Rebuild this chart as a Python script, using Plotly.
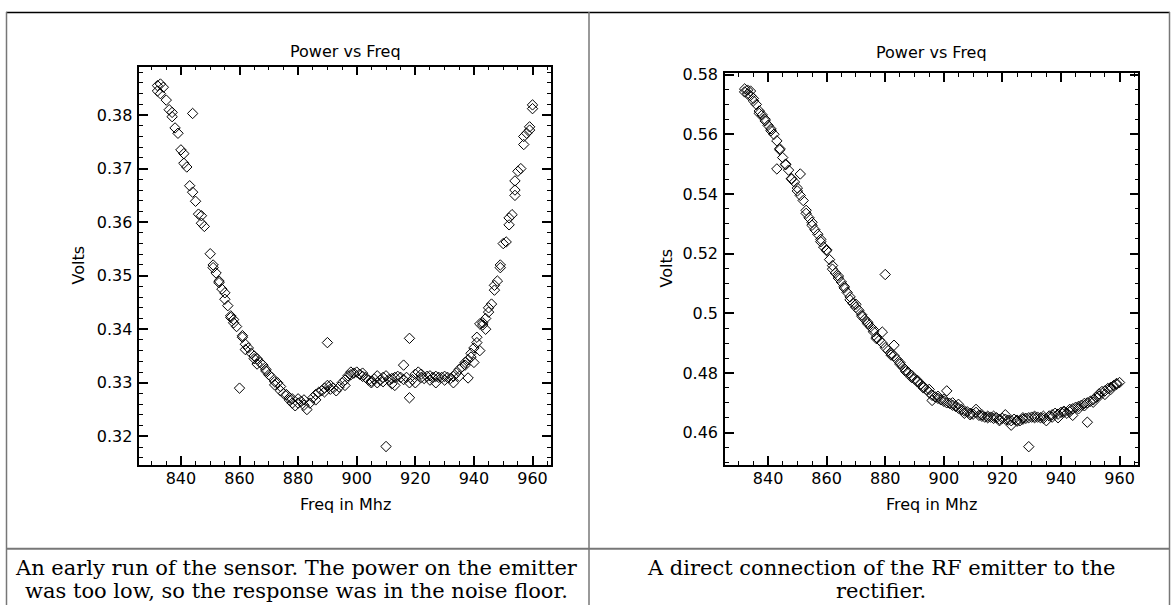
import plotly.graph_objects as go

W, H = 1174, 605

# ---------------- data ----------------
freq_left = [
    832, 832, 833, 833, 834, 835, 836, 837, 837, 838, 839, 840, 841, 841, 842, 843, 844, 844, 845, 846,
    847, 847, 848, 850, 851, 851, 852, 853, 853, 854, 855, 855, 856, 857, 857, 858, 858, 859, 860, 861,
    861, 862, 862, 863, 864, 865, 865, 866, 866, 867, 868, 869, 869, 870, 871, 872, 872, 873, 874, 874,
    875, 876, 877, 877, 878, 878, 879, 880, 880, 881, 882, 882, 883, 884, 885, 886, 886, 887, 888, 889,
    889, 890, 890, 891, 891, 892, 893, 894, 895, 896, 896, 897, 898, 898, 899, 900, 901, 902, 902, 903,
    904, 905, 905, 906, 907, 907, 908, 909, 909, 910, 910, 911, 912, 912, 913, 913, 914, 915, 916, 916,
    917, 918, 918, 918, 919, 920, 920, 921, 922, 922, 923, 924, 925, 925, 926, 927, 927, 928, 929, 930,
    930, 931, 932, 933, 933, 934, 935, 935, 936, 937, 937, 938, 938, 939, 939, 940, 940, 941, 941, 942,
    942, 943, 943, 944, 944, 945, 945, 946, 947, 947, 948, 949, 949, 950, 951, 952, 952, 953, 954, 954,
    954, 955, 956, 957, 957, 958, 959, 959, 960, 960,
]
volts_left = [
    0.3855, 0.3845, 0.3858, 0.3840, 0.3852, 0.3828, 0.3810, 0.3805, 0.3797, 0.3776, 0.3766, 0.3735, 0.3728, 0.3710, 0.3703, 0.3668, 0.3656, 0.3803, 0.3639, 0.3615,
    0.3612, 0.3598, 0.3592, 0.3541, 0.3520, 0.3515, 0.3505, 0.3490, 0.3487, 0.3475, 0.3468, 0.3456, 0.3444, 0.3425, 0.3422, 0.3418, 0.3412, 0.3405, 0.3290, 0.3388,
    0.3385, 0.3372, 0.3362, 0.3365, 0.3355, 0.3350, 0.3345, 0.3345, 0.3335, 0.3338, 0.3333, 0.3325, 0.3322, 0.3315, 0.3310, 0.3302, 0.3296, 0.3300, 0.3293, 0.3285,
    0.3280, 0.3278, 0.3272, 0.3268, 0.3262, 0.3270, 0.3257, 0.3270, 0.3262, 0.3265, 0.3268, 0.3258, 0.3250, 0.3262, 0.3272, 0.3268, 0.3278, 0.3282, 0.3285, 0.3290,
    0.3283, 0.3295, 0.3375, 0.3295, 0.3288, 0.3290, 0.3285, 0.3292, 0.3300, 0.3305, 0.3295, 0.3313, 0.3320, 0.3315, 0.3318, 0.3320, 0.3316, 0.3312, 0.3318, 0.3310,
    0.3305, 0.3303, 0.3300, 0.3307, 0.3313, 0.3300, 0.3305, 0.3310, 0.3302, 0.3313, 0.3181, 0.3306, 0.3308, 0.3298, 0.3295, 0.3310, 0.3312, 0.3310, 0.3306, 0.3333,
    0.3310, 0.3300, 0.3383, 0.3272, 0.3306, 0.3300, 0.3316, 0.3320, 0.3316, 0.3310, 0.3308, 0.3312, 0.3305, 0.3313, 0.3310, 0.3300, 0.3312, 0.3310, 0.3310, 0.3312,
    0.3305, 0.3310, 0.3308, 0.3300, 0.3312, 0.3318, 0.3325, 0.3312, 0.3330, 0.3333, 0.3338, 0.3309, 0.3343, 0.3348, 0.3355, 0.3365, 0.3338, 0.3375, 0.3385, 0.3410,
    0.3360, 0.3412, 0.3408, 0.3420, 0.3400, 0.3432, 0.3440, 0.3447, 0.3473, 0.3482, 0.3490, 0.3520, 0.3515, 0.3560, 0.3563, 0.3608, 0.3595, 0.3614, 0.3650, 0.3660,
    0.3677, 0.3695, 0.3700, 0.3745, 0.3760, 0.3766, 0.3772, 0.3778, 0.3812, 0.3819,
]

freq_right = [
    832, 832, 833, 833, 834, 834, 835, 835, 836, 837, 837, 838, 839, 839, 840, 841, 841, 842, 843, 843,
    844, 844, 845, 846, 846, 847, 848, 848, 849, 850, 850, 851, 851, 852, 853, 853, 854, 855, 855, 856,
    857, 858, 858, 859, 860, 860, 861, 862, 862, 863, 864, 864, 865, 866, 866, 867, 868, 868, 869, 870,
    870, 871, 872, 872, 873, 874, 874, 875, 876, 876, 877, 877, 878, 879, 879, 880, 880, 881, 882, 882,
    883, 883, 884, 885, 885, 886, 887, 887, 888, 889, 889, 890, 891, 891, 892, 893, 893, 894, 895, 895,
    896, 896, 897, 898, 898, 899, 900, 900, 901, 901, 902, 903, 903, 904, 905, 905, 906, 907, 907, 908,
    909, 909, 910, 911, 911, 912, 913, 913, 914, 915, 915, 916, 917, 917, 918, 919, 919, 920, 921, 921,
    922, 923, 923, 924, 925, 925, 926, 927, 927, 928, 929, 929, 930, 931, 931, 932, 933, 934, 934, 935,
    936, 937, 937, 938, 939, 939, 940, 941, 941, 942, 943, 943, 944, 944, 945, 946, 946, 947, 948, 948,
    949, 949, 950, 951, 951, 952, 953, 953, 954, 955, 955, 956, 957, 957, 958, 959, 959, 960,
]
volts_right = [
    0.5752, 0.5742, 0.5748, 0.5735, 0.5730, 0.5745, 0.5720, 0.5712, 0.5700, 0.5678, 0.5670, 0.5665, 0.5650, 0.5645, 0.5630, 0.5618, 0.5612, 0.5600, 0.5578, 0.5484,
    0.5552, 0.5548, 0.5522, 0.5498, 0.5500, 0.5480, 0.5452, 0.5450, 0.5440, 0.5420, 0.5410, 0.5395, 0.5467, 0.5378, 0.5345, 0.5335, 0.5320, 0.5305, 0.5295, 0.5280,
    0.5265, 0.5248, 0.5240, 0.5222, 0.5213, 0.5210, 0.5180, 0.5160, 0.5148, 0.5135, 0.5125, 0.5118, 0.5105, 0.5090, 0.5085, 0.5070, 0.5055, 0.5045, 0.5033, 0.5020,
    0.5030, 0.5010, 0.4995, 0.4990, 0.4980, 0.4970, 0.4965, 0.4955, 0.4945, 0.4938, 0.4920, 0.4915, 0.4910, 0.4900, 0.4937, 0.4885, 0.5130, 0.4875, 0.4865, 0.4860,
    0.4858, 0.4893, 0.4845, 0.4835, 0.4830, 0.4820, 0.4810, 0.4805, 0.4800, 0.4792, 0.4785, 0.4780, 0.4775, 0.4770, 0.4762, 0.4755, 0.4750, 0.4745, 0.4735, 0.4745,
    0.4725, 0.4708, 0.4720, 0.4715, 0.4722, 0.4710, 0.4705, 0.4712, 0.4700, 0.4740, 0.4698, 0.4692, 0.4700, 0.4688, 0.4682, 0.4695, 0.4678, 0.4673, 0.4665, 0.4670,
    0.4665, 0.4660, 0.4662, 0.4668, 0.4678, 0.4658, 0.4655, 0.4660, 0.4652, 0.4650, 0.4655, 0.4652, 0.4648, 0.4655, 0.4650, 0.4645, 0.4640, 0.4648, 0.4645, 0.4660,
    0.4642, 0.4640, 0.4625, 0.4645, 0.4642, 0.4638, 0.4640, 0.4645, 0.4650, 0.4648, 0.4650, 0.4553, 0.4652, 0.4650, 0.4655, 0.4652, 0.4650, 0.4655, 0.4648, 0.4640,
    0.4656, 0.4660, 0.4652, 0.4665, 0.4662, 0.4650, 0.4668, 0.4668, 0.4672, 0.4665, 0.4670, 0.4678, 0.4680, 0.4658, 0.4685, 0.4688, 0.4680, 0.4692, 0.4698, 0.4690,
    0.4700, 0.4635, 0.4705, 0.4710, 0.4702, 0.4718, 0.4722, 0.4730, 0.4738, 0.4740, 0.4728, 0.4748, 0.4752, 0.4745, 0.4758, 0.4762, 0.4765, 0.4768,
]

x_tick_vals = [840, 860, 880, 900, 920, 940, 960]
y_left_tick_vals = [0.32, 0.33, 0.34, 0.35, 0.36, 0.37, 0.38]
y_left_tick_text = ["0.32", "0.33", "0.34", "0.35", "0.36", "0.37", "0.38"]
y_right_tick_vals = [0.46, 0.48, 0.50, 0.52, 0.54, 0.56, 0.58]
y_right_tick_text = ["0.46", "0.48", "0.5", "0.52", "0.54", "0.56", "0.58"]

plot_title = "Power vs Freq"
x_title = "Freq in Mhz"
y_title = "Volts"
caption_left = ["An early run of the sensor. The power on the emitter",
                "was too low, so the response was in the noise floor."]
caption_right = ["A direct connection of the RF emitter to the", "rectifier."]


# ---------------- helpers (pixel -> paper) ----------------
def px(x):
    return x / W


def py(y):
    return 1 - y / H


TICK_FONT = dict(family="DejaVu Sans", size=16, color="black")


def axis_common(**kw):
    d = dict(
        showline=True, linecolor="black", linewidth=1.5, mirror="allticks",
        ticks="inside", ticklen=9, tickwidth=1.5, tickcolor="black",
        showgrid=False, zeroline=False, tickfont=TICK_FONT,
        fixedrange=True,
    )
    d.update(kw)
    return d


fig = go.Figure()
marker = dict(symbol="diamond-open", size=8, color="black", line=dict(width=1, color="black"))

fig.add_trace(go.Scatter(x=freq_left, y=volts_left, mode="markers", marker=marker,
                         xaxis="x", yaxis="y", showlegend=False))
fig.add_trace(go.Scatter(x=freq_right, y=volts_right, mode="markers", marker=marker,
                         xaxis="x2", yaxis="y2", showlegend=False))

fig.update_layout(
    width=W, height=H,
    margin=dict(l=0, r=0, t=0, b=0),
    paper_bgcolor="white", plot_bgcolor="white",
    xaxis=axis_common(domain=[px(139.3), px(550.7)], range=[825.8, 966.2], anchor="y",
                      tickvals=x_tick_vals, ticklabelstandoff=-2,
                      minor=dict(ticks="inside", ticklen=4, tickwidth=1.2, tickcolor="black",
                                 tick0=840, dtick=5)),
    yaxis=axis_common(domain=[py(462.7), py(59.3)], range=[0.31472, 0.38907], anchor="x",
                      tickvals=y_left_tick_vals, ticktext=y_left_tick_text, ticklabelstandoff=2,
                      minor=dict(ticks="inside", ticklen=4, tickwidth=1.2, tickcolor="black",
                                 tick0=0.32, dtick=0.002)),
    xaxis2=axis_common(domain=[px(725), px(1138.3)], range=[825.3, 966.4], anchor="y2",
                       tickvals=x_tick_vals, ticklabelstandoff=-2,
                       minor=dict(ticks="inside", ticklen=4, tickwidth=1.2, tickcolor="black",
                                  tick0=840, dtick=5)),
    yaxis2=axis_common(domain=[py(462.7), py(66)], range=[0.4493, 0.5805], anchor="x2",
                       tickvals=y_right_tick_vals, ticktext=y_right_tick_text, ticklabelstandoff=2,
                       minor=dict(ticks="inside", ticklen=4, tickwidth=1.2, tickcolor="black",
                                  tick0=0.46, dtick=0.005)),
)

LBL_FONT = dict(family="DejaVu Sans", size=16, color="black")
CAP_FONT = dict(family="DejaVu Serif", size=21, color="black")

ann = []
for cx, ty, vx, xy in [(345, 44, 79, 261), (932, 45, 667, 264)]:
    ann.append(dict(text=plot_title, x=px(cx), y=py(ty), xref="paper", yref="paper",
                    xanchor="center", yanchor="middle", showarrow=False, font=LBL_FONT))
    ann.append(dict(text=y_title, x=px(vx), y=py(xy), xref="paper", yref="paper", textangle=-90,
                    xanchor="center", yanchor="middle", showarrow=False, font=LBL_FONT))
    ann.append(dict(text=x_title, x=px(cx), y=py(503), xref="paper", yref="paper",
                    xanchor="center", yanchor="middle", showarrow=False, font=LBL_FONT))

for i, line in enumerate(caption_left):
    ann.append(dict(text=line, x=px(297), y=py(568 + 23 * i), xref="paper", yref="paper",
                    xanchor="center", yanchor="middle", showarrow=False, font=CAP_FONT))
for i, line in enumerate(caption_right):
    ann.append(dict(text=line, x=px(881), y=py(568 + 23 * i), xref="paper", yref="paper",
                    xanchor="center", yanchor="middle", showarrow=False, font=CAP_FONT))
fig.update_layout(annotations=ann)

# table rules
DIV_X = 589
shapes = [
    dict(type="line", x0=px(6), x1=px(1170), y0=py(4.5), y1=py(4.5), line=dict(color="black", width=1.5)),
    dict(type="line", x0=px(6.5), x1=px(6.5), y0=py(4), y1=py(605), line=dict(color="#777777", width=1.5)),
    dict(type="line", x0=px(1169.5), x1=px(1169.5), y0=py(4), y1=py(605), line=dict(color="#777777", width=1.5)),
    dict(type="line", x0=px(DIV_X), x1=px(DIV_X), y0=py(4), y1=py(605), line=dict(color="#777777", width=1.5)),
    dict(type="line", x0=px(6), x1=px(1170), y0=py(548), y1=py(548), line=dict(color="#777777", width=2)),
]
for s in shapes:
    s.update(xref="paper", yref="paper", layer="above")
fig.update_layout(shapes=shapes)

fig.write_html("out.html")
